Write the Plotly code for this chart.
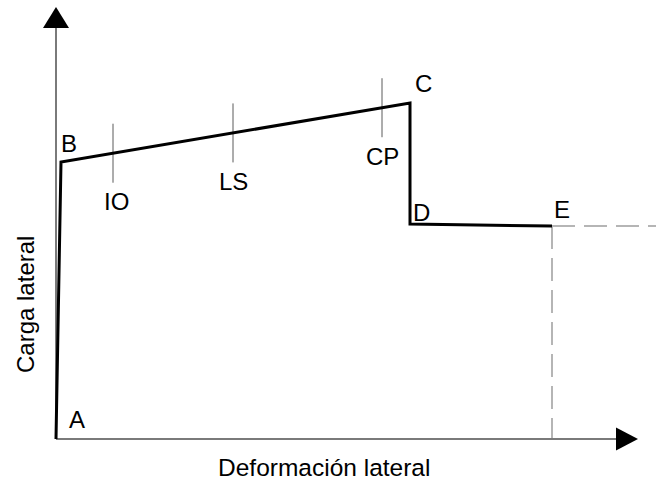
import numpy as np
import plotly.graph_objects as go

# Idealised pushover (capacity) curve: lateral load vs lateral deformation
points = ["A", "B", "C", "D", "E"]
deformation = [0.0, 0.05, 3.54, 3.54, 4.96]
load = [0.0, 2.77, 3.36, 2.15, 2.13]

# Performance levels marked on the B–C branch
levels = ["IO", "LS", "CP"]
level_deformation = [0.57, 1.77, 3.26]

# Label offsets (px) for the curve points
point_label_dx = [21, 8, 13, 11, 10]
point_label_dy = [-20, -19, -20, -12, -17]

x_title = "Deformación lateral"
y_title = "Carga lateral"

FONT = "Liberation Sans, Arial, sans-serif"
FS = 24
AXIS_COLOR = "#7a7a7a"
TICK_COLOR = "#5a5a5a"
DASH_COLOR = "#b5b5b5"

X_RANGE = [-0.56, 6.00]
Y_RANGE = [-0.41, 4.39]
X_AXIS_END = 5.60
Y_AXIS_END = 4.11

fig = go.Figure()

# Dashed continuation and projection from E
xe, ye = deformation[-1], load[-1]
fig.add_trace(go.Scatter(
    x=[xe, X_RANGE[1]], y=[ye, ye], mode="lines",
    line=dict(color=DASH_COLOR, width=2, dash="23px,9px"),
    hoverinfo="skip", showlegend=False))
fig.add_trace(go.Scatter(
    x=[xe, xe], y=[ye, 0], mode="lines",
    line=dict(color=DASH_COLOR, width=2, dash="23px,9px"),
    hoverinfo="skip", showlegend=False))

# Axes with arrowheads
fig.add_trace(go.Scatter(
    x=[0, 0], y=[0, Y_AXIS_END], mode="lines",
    line=dict(color=AXIS_COLOR, width=2), hoverinfo="skip", showlegend=False))
fig.add_trace(go.Scatter(
    x=[0, X_AXIS_END], y=[0, 0], mode="lines",
    line=dict(color=AXIS_COLOR, width=2), hoverinfo="skip", showlegend=False))
fig.add_shape(type="path",
              path=f"M -0.13 {Y_AXIS_END} L 0.13 {Y_AXIS_END} L 0 {Y_AXIS_END + 0.21} Z",
              fillcolor="black", line=dict(width=0))
fig.add_shape(type="path",
              path=f"M {X_AXIS_END} -0.115 L {X_AXIS_END} 0.115 L {X_AXIS_END + 0.22} 0 Z",
              fillcolor="black", line=dict(width=0))

# Performance level ticks, centred on the B–C branch
bc_x = deformation[1:3]
bc_y = load[1:3]
half = 0.295
for name, xv in zip(levels, level_deformation):
    yc = float(np.interp(xv, bc_x, bc_y))
    fig.add_trace(go.Scatter(
        x=[xv, xv], y=[yc - half, yc + half], mode="lines",
        line=dict(color=TICK_COLOR, width=1), hoverinfo="skip", showlegend=False))
    fig.add_annotation(x=xv, y=yc - half, text=name, showarrow=False,
                       xanchor="center", yanchor="middle", xshift=3 if name == "IO" else 0,
                       yshift=-19, font=dict(family=FONT, size=FS, color="black"))

# Capacity curve
fig.add_trace(go.Scatter(
    x=deformation, y=load, mode="lines",
    line=dict(color="black", width=3), hoverinfo="skip", showlegend=False))

for name, xv, yv, dx, dy in zip(points, deformation, load, point_label_dx, point_label_dy):
    fig.add_annotation(x=xv, y=yv, text=name, showarrow=False,
                       xanchor="center", yanchor="middle", xshift=dx, yshift=-dy,
                       font=dict(family=FONT, size=FS, color="black"))

# Axis titles
fig.add_annotation(xref="paper", yref="paper", x=324 / 656, y=1 - 467 / 480,
                   text=x_title, showarrow=False, xanchor="center", yanchor="middle",
                   font=dict(family=FONT, size=24.5, color="black"))
fig.add_annotation(xref="paper", yref="paper", x=25 / 656, y=1 - 305 / 480,
                   text=y_title, showarrow=False, textangle=-90,
                   xanchor="center", yanchor="middle",
                   font=dict(family=FONT, size=FS, color="black"))

fig.update_layout(
    width=656, height=480,
    margin=dict(l=0, r=0, t=0, b=0),
    paper_bgcolor="white", plot_bgcolor="white",
    xaxis=dict(range=X_RANGE, visible=False, fixedrange=True),
    yaxis=dict(range=Y_RANGE, visible=False, fixedrange=True),
    showlegend=False,
)

fig.write_html("out.html")
